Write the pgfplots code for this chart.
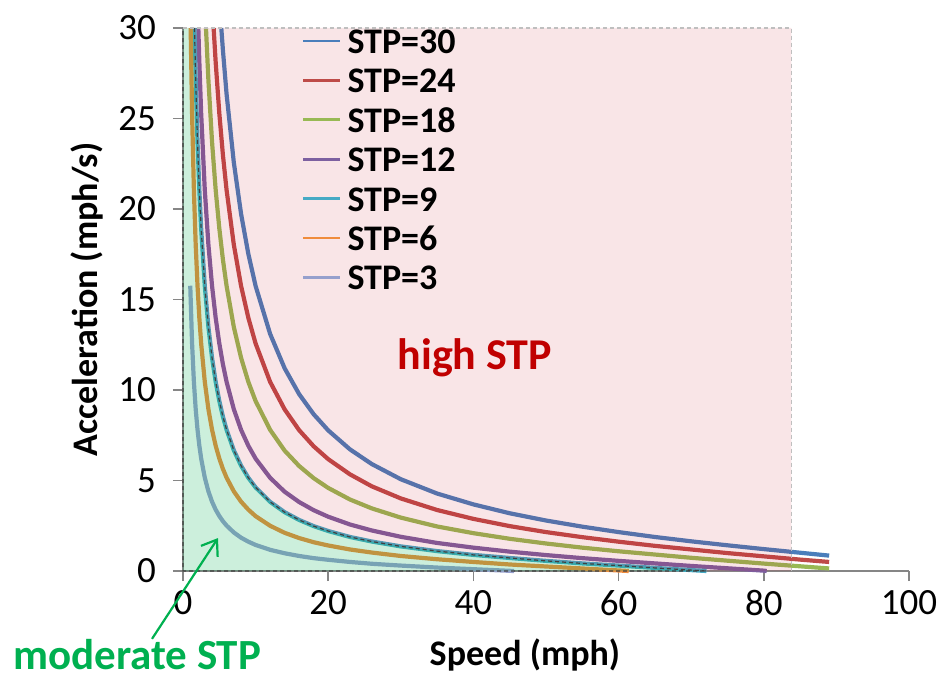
\documentclass[border=0pt]{standalone}
\usepackage{fontspec}
\setmainfont{Carlito}
\usepackage{pgfplots}
\pgfplotsset{compat=1.18}
\usepackage{pgfplotstable}
\usetikzlibrary{arrows.meta}

\definecolor{cBlue}{RGB}{74,126,187}
\definecolor{cRed}{RGB}{190,75,72}
\definecolor{cGreen}{RGB}{152,185,84}
\definecolor{cPurple}{RGB}{125,96,160}
\definecolor{cTeal}{RGB}{70,170,197}
\definecolor{cOrange}{RGB}{240,140,60}
\definecolor{cLav}{RGB}{150,160,205}
\definecolor{zoneGreen}{RGB}{0,176,80}
\definecolor{zonePink}{RGB}{200,20,40}
\definecolor{axisGray}{RGB}{134,134,134}
\definecolor{labelRed}{RGB}{192,0,0}
\definecolor{labelGreen}{RGB}{0,176,80}

% acceleration (mph/s) against speed (mph) for constant STP
\pgfplotstableread{
x y
5.275 30
5.5 28.77
6 26.36
7 22.57
8 19.73
9 17.52
10 15.75
12 13.10
14 11.20
16 9.77
18 8.66
20 7.77
23 6.72
26 5.91
30 5.07
35 4.28
40 3.68
45 3.19
50 2.79
55 2.45
60 2.15
65 1.88
70 1.64
75 1.42
80 1.21
85 1.01
89 0.85
}\stpThirty

\pgfplotstableread{
x y
4.22 30
4.5 28.12
5 25.30
5.5 22.98
6 21.06
7 18.03
8 15.75
9 13.99
10 12.57
12 10.45
14 8.93
16 7.78
18 6.89
20 6.18
23 5.34
26 4.68
30 4.01
35 3.37
40 2.88
45 2.48
50 2.15
55 1.87
60 1.62
65 1.39
70 1.19
75 0.99
80 0.81
85 0.63
89 0.50
}\stpTwentyFour

\pgfplotstableread{
x y
3.165 30
3.5 27.12
4 23.71
4.5 21.06
5 18.94
5.5 17.20
6 15.76
7 13.48
8 11.78
9 10.45
10 9.39
12 7.80
14 6.65
16 5.80
18 5.13
20 4.59
23 3.95
26 3.46
30 2.95
35 2.46
40 2.09
45 1.78
50 1.52
55 1.29
60 1.09
65 0.91
70 0.73
75 0.57
80 0.41
85 0.26
89 0.14
}\stpEighteen

\pgfplotstableread{
x y
2.11 30
2.25 28.13
2.5 25.30
3 21.06
3.5 18.03
4 15.76
4.5 13.99
5 12.58
5.5 11.42
6 10.46
7 8.94
8 7.80
9 6.92
10 6.21
12 5.15
14 4.38
16 3.81
18 3.36
20 3.00
23 2.57
26 2.24
30 1.89
35 1.55
40 1.29
45 1.07
50 0.88
55 0.71
60 0.56
65 0.42
70 0.28
75 0.15
80 0.02
80.4 0
}\stpTwelve

\pgfplotstableread{
x y
1.583 30
1.75 27.12
2 23.71
2.25 21.06
2.5 18.94
3 15.76
3.5 13.49
4 11.78
4.5 10.46
5 9.40
5.5 8.53
6 7.81
7 6.67
8 5.82
9 5.15
10 4.62
12 3.82
14 3.25
16 2.82
18 2.48
20 2.21
23 1.88
26 1.63
30 1.36
35 1.10
40 0.89
45 0.72
50 0.56
55 0.42
60 0.30
65 0.17
70 0.05
72.1 0
}\stpNine

\pgfplotstableread{
x y
1.055 30
1.25 25.30
1.5 21.06
1.75 18.03
2 15.76
2.25 13.99
2.5 12.58
3 10.46
3.5 8.94
4 7.81
4.5 6.92
5 6.22
5.5 5.64
6 5.16
7 4.40
8 3.83
9 3.39
10 3.03
12 2.50
14 2.11
16 1.82
18 1.59
20 1.41
23 1.19
26 1.02
30 0.83
35 0.65
40 0.50
45 0.36
50 0.25
55 0.14
60 0.03
61.4 0
}\stpSix

\pgfplotstableread{
x y
1 15.76
1.25 12.58
1.5 10.46
1.75 8.94
2 7.81
2.25 6.93
2.5 6.22
3 5.16
3.5 4.40
4 3.83
4.5 3.39
5 3.04
5.5 2.75
6 2.51
7 2.13
8 1.84
9 1.62
10 1.44
12 1.17
14 0.98
16 0.83
18 0.71
20 0.62
23 0.50
26 0.40
30 0.30
35 0.19
40 0.10
45 0.01
45.6 0
}\stpThree

\begin{document}
\begin{tikzpicture}
\useasboundingbox (-91.5pt,-55pt) rectangle (379.5pt,285.5pt);
\begin{axis}[
  at={(0,0)}, anchor=south west,
  scale only axis, width=363pt, height=271.5pt,
  xmin=0, xmax=100, ymin=0, ymax=30,
  enlargelimits=false,
  xtick={0,20,...,100}, ytick={0,5,...,30},
  axis lines=left,
  axis line style={-, axisGray, line width=0.8pt},
  xtick align=outside, ytick align=outside,
  tick style={axisGray, line width=0.8pt},
  major tick length=5pt,
  clip=false,
  tick label style={font=\fontsize{18.5}{21}\selectfont},
  yticklabel style={xshift=-5pt},
  xticklabel style={yshift=-1pt},
  /pgf/number format/assume math mode=true,
  xlabel={Speed (mph)}, ylabel={Acceleration (mph/s)},
  every axis x label/.style={at={(axis description cs:0.471,-0.1547)}, anchor=center,
    font=\bfseries\fontsize{18}{21}\selectfont},
  every axis y label/.style={at={(axis description cs:-0.1322,0.5)}, rotate=90, anchor=center,
    font=\bfseries\fontsize{18}{21}\selectfont},
  legend style={at={(axis cs:16.3,30)}, anchor=north west, draw=none, fill=none,
    inner sep=0pt, row sep=7.2pt, column sep=3pt,
    font=\bfseries\fontsize{18}{21}\selectfont,
    nodes={inner sep=0pt, text height=12.5pt, text depth=0pt}},
  legend image code/.code={\draw[#1, line width=1.4pt] (0pt,0pt) -- (18.5pt,0pt);},
  legend cell align=left,
]
\addplot[cBlue, line width=2.1pt] table {\stpThirty};
\addlegendentry{STP=30}
\addplot[cRed, line width=2.1pt] table {\stpTwentyFour};
\addlegendentry{STP=24}
\addplot[cGreen, line width=2.1pt] table {\stpEighteen};
\addlegendentry{STP=18}
\addplot[cPurple, line width=2.1pt] table {\stpTwelve};
\addlegendentry{STP=12}
\addplot[cTeal, line width=2.1pt] table {\stpNine};
\addlegendentry{STP=9}
\addplot[cOrange, line width=2.1pt] table {\stpSix};
\addlegendentry{STP=6}
\addplot[cLav, line width=2.1pt] table {\stpThree};
\addlegendentry{STP=3}

% high STP zone: right of the STP=9 boundary up to 83.8 mph
\addplot[draw=none, fill=zonePink, fill opacity=0.11, forget plot]
  table {\stpNine} -- (axis cs:83.8,0) -- (axis cs:83.8,30) -- cycle;
% moderate STP zone: below the STP=9 boundary
\addplot[draw=none, fill=zoneGreen, fill opacity=0.2, forget plot]
  table {\stpNine} -- (axis cs:0,0) -- (axis cs:0,30) -- cycle;
\addplot[black!75, line width=0.6pt, dash pattern=on 2pt off 1.5pt, forget plot]
  table {\stpNine} -- (axis cs:0,0) -- (axis cs:0,30);
\draw[black!25, line width=0.6pt, dash pattern=on 2pt off 1.5pt]
  (axis cs:0,30) -- (axis cs:83.8,30) -- (axis cs:83.8,0);

\node[font=\bfseries\fontsize{22}{26}\selectfont, text=labelRed] at (axis cs:40.2,11.8) {high STP};
\node[font=\bfseries\fontsize{21.5}{25}\selectfont, text=labelGreen, inner sep=0pt, anchor=base]
  at (axis cs:-6.3,-5.45) {moderate STP};
\draw[labelGreen, line width=1.1pt, -{Straight Barb[length=7pt,width=10pt]}]
  (axis cs:-4.27,-3.75) -- (axis cs:4.82,1.82);
\end{axis}
\end{tikzpicture}
\end{document}
